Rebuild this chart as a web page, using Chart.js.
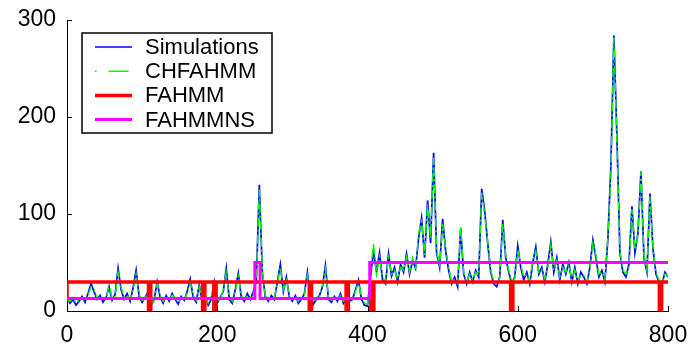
<!DOCTYPE html>
<html>
<head>
<meta charset="utf-8">
<script src="https://cdn.jsdelivr.net/npm/chart.js@4/dist/chart.umd.min.js"></script>
<style>
  body { margin: 0; background: #fff; }
  #wrap { width: 695px; height: 351px; position: relative; }
</style>
</head>
<body>
<div id="wrap"><canvas id="chart"></canvas></div>
<script>
// sample step of the two simulated series (x = index * STEP)
var STEP = 4;

var simulations = [
    14, 8, 12, 6, 10, 15, 9, 18, 28, 20, 12, 16, 9, 14, 25, 11, 17, 44, 22, 12, 18, 10, 24, 42, 15,
    9, 14, 20, 6, 12, 30, 14, 8, 16, 10, 18, 12, 7, 15, 11, 20, 33, 14, 9, 27, 10, 16, 6, 12, 30,
    8, 14, 20, 44, 12, 8, 22, 39, 14, 10, 18, 12, 20, 30, 130, 40, 14, 10, 16, 12, 30, 48, 20, 35, 14,
    10, 16, 8, 12, 18, 40, 14, 7, 12, 16, 25, 47, 12, 9, 15, 10, 18, 8, 14, 10, 12, 22, 32, 12, 6,
    5, 35, 62, 40, 60, 32, 28, 59, 36, 45, 30, 48, 40, 59, 38, 52, 44, 75, 96, 55, 114, 70, 163, 60, 45,
    95, 62, 42, 28, 35, 25, 85, 38, 28, 40, 30, 42, 35, 126, 103, 70, 40, 28, 25, 35, 94, 55, 40, 28, 35,
    67, 45, 32, 40, 28, 50, 66, 38, 45, 30, 48, 71, 40, 55, 32, 48, 38, 50, 30, 45, 28, 40, 35, 28, 45,
    73, 55, 35, 42, 30, 75, 150, 284, 180, 60, 40, 35, 48, 108, 60, 80, 144, 55, 40, 121, 64, 38, 30, 28, 40, 35
];

var chfahmm = [
    12, 10, 14, 8, 12, 13, 11, 16, 25, 22, 14, 14, 11, 12, 28, 13, 15, 40, 25, 14, 16, 12, 22, 38, 17,
    11, 12, 22, 8, 10, 28, 16, 10, 14, 12, 16, 14, 9, 13, 13, 18, 30, 16, 11, 25, 12, 14, 8, 14, 27,
    10, 12, 22, 40, 14, 10, 20, 36, 16, 12, 16, 14, 18, 28, 125, 42, 16, 12, 14, 14, 28, 45, 22, 32, 16,
    12, 14, 10, 14, 16, 37, 16, 9, 14, 14, 27, 44, 14, 11, 13, 12, 16, 10, 12, 12, 14, 20, 30, 14, 8,
    7, 40, 70, 38, 56, 35, 30, 55, 38, 42, 33, 45, 42, 56, 40, 55, 42, 80, 92, 58, 110, 75, 158, 62, 48,
    90, 65, 45, 30, 33, 28, 88, 40, 30, 38, 32, 40, 37, 122, 100, 72, 42, 30, 28, 33, 90, 58, 42, 30, 33,
    63, 48, 35, 38, 30, 53, 62, 40, 43, 33, 45, 68, 42, 52, 35, 45, 40, 48, 32, 42, 30, 38, 37, 30, 42,
    70, 58, 38, 40, 32, 78, 140, 282, 175, 62, 42, 38, 45, 105, 63, 78, 144, 58, 42, 118, 66, 40, 32, 30, 38, 36
];

// step series: FAHMM
var fahmmX = [0, 0, 108.5, 108.5, 111.5, 111.5, 180.5, 180.5, 183.5, 183.5, 195.5, 195.5, 198.5, 198.5,
    322.5, 322.5, 325.5, 325.5, 371.5, 371.5, 374.5, 374.5, 404.5, 404.5, 408.5, 408.5,
    590.5, 590.5, 593.5, 593.5, 788.5, 788.5, 791.5, 791.5, 800];
var fahmmY = [12, 30, 30, 0, 0, 30, 30, 0, 0, 30, 30, 0, 0, 30,
    30, 0, 0, 30, 30, 0, 0, 30, 30, 0, 0, 30,
    30, 0, 0, 30, 30, 0, 0, 30, 30];

// step series: FAHMMNS
var fahmmnsX = [0, 250, 250, 257, 257, 403, 403, 800];
var fahmmnsY = [13, 13, 50, 50, 13, 13, 50, 50];

var xTicks = [0, 200, 400, 600, 800];
var yTicks = [0, 100, 200, 300];

var FONT = "'Liberation Sans', Arial, sans-serif";

function toPoints(xs, ys) {
    return xs.map(function(x, i) { return { x: x, y: ys[i] }; });
}
function stepPoints(vals) {
    return vals.map(function(v, i) { return { x: i * STEP, y: v }; });
}

// inward tick marks on both axes
var innerTicks = {
    id: 'innerTicks',
    afterDraw: function(chart) {
        var ctx = chart.ctx, a = chart.chartArea;
        var xs = chart.scales.x, ys = chart.scales.y;
        ctx.save();
        ctx.strokeStyle = '#000';
        ctx.lineWidth = 1;
        ctx.beginPath();
        xTicks.forEach(function(t) {
            var p = Math.round(xs.getPixelForValue(t)) + 0.5;
            ctx.moveTo(p, a.bottom);
            ctx.lineTo(p, a.bottom - 5);
        });
        yTicks.forEach(function(t) {
            var p = Math.round(ys.getPixelForValue(t)) + 0.5;
            ctx.moveTo(a.left, p);
            ctx.lineTo(a.left + 5, p);
        });
        ctx.stroke();
        ctx.restore();
    }
};

// boxed legend inside the plot, top left
var boxLegend = {
    id: 'boxLegend',
    afterDraw: function(chart) {
        var ctx = chart.ctx;
        var bx = 82, by = 33, bw = 190, bh = 100;
        ctx.save();
        ctx.fillStyle = '#fff';
        ctx.fillRect(bx, by, bw, bh);
        ctx.strokeStyle = '#000';
        ctx.lineWidth = 1.5;
        ctx.strokeRect(bx, by, bw, bh);
        ctx.font = '22px ' + FONT;
        ctx.textBaseline = 'middle';
        ctx.textAlign = 'left';
        chart.data.datasets.forEach(function(ds, i) {
            var y = 47 + i * 24.2;
            ctx.beginPath();
            ctx.strokeStyle = ds.borderColor;
            ctx.lineWidth = ds.borderWidth;
            if (ds.legendDash) {
                ctx.setLineDash(ds.legendDash);
            } else {
                ctx.setLineDash([]);
            }
            ctx.moveTo(95, y);
            ctx.lineTo(132, y);
            ctx.stroke();
            ctx.setLineDash([]);
            ctx.fillStyle = '#000';
            ctx.fillText(ds.label, 145, y + 1);
        });
        ctx.restore();
    }
};

var ctx = document.getElementById('chart').getContext('2d');
var chart = new Chart(ctx, {
    type: 'line',
    data: {
        datasets: [{
            label: 'Simulations',
            data: stepPoints(simulations),
            borderColor: '#0000ff',
            borderWidth: 1.7,
            order: 4
        }, {
            label: 'CHFAHMM',
            data: stepPoints(chfahmm),
            borderColor: '#00ff00',
            borderWidth: 1.4,
            borderDash: [9, 3, 2, 3],
            legendDash: [1.5, 12, 20, 100],
            order: 3
        }, {
            label: 'FAHMM',
            data: toPoints(fahmmX, fahmmY),
            borderColor: '#ff0000',
            borderWidth: 3.5,
            order: 2
        }, {
            label: 'FAHMMNS',
            data: toPoints(fahmmnsX, fahmmnsY),
            borderColor: '#ff00ff',
            borderWidth: 3,
            order: 1
        }]
    },
    options: {
        responsive: true,
        maintainAspectRatio: false,
        animation: false,
        devicePixelRatio: 1,
        layout: {
            padding: { left: 0, top: 20, right: 27, bottom: 0 }
        },
        elements: {
            point: { radius: 0 },
            line: { tension: 0, fill: false, borderJoinStyle: 'miter' }
        },
        plugins: {
            legend: { display: false },
            tooltip: { enabled: false }
        },
        scales: {
            x: {
                type: 'linear',
                min: 0,
                max: 800,
                afterFit: function(scale) {
                    scale.height = 40;
                    scale.paddingLeft = 0;
                    scale.paddingRight = 0;
                },
                afterBuildTicks: function(scale) {
                    scale.ticks = xTicks.map(function(v) { return { value: v }; });
                },
                grid: { display: false, drawTicks: false },
                border: { display: true, color: '#000', width: 1 },
                ticks: {
                    padding: 11,
                    maxRotation: 0,
                    color: '#000',
                    font: { family: FONT, size: 23 }
                }
            },
            y: {
                min: 0,
                max: 300,
                afterFit: function(scale) {
                    scale.width = 67;
                    scale.paddingTop = 0;
                    scale.paddingBottom = 0;
                },
                afterBuildTicks: function(scale) {
                    scale.ticks = yTicks.map(function(v) { return { value: v }; });
                },
                grid: { display: false, drawTicks: false },
                border: { display: true, color: '#000', width: 1 },
                ticks: {
                    padding: 11,
                    color: '#000',
                    font: { family: FONT, size: 23 }
                }
            }
        }
    },
    plugins: [innerTicks, boxLegend]
});
</script>
</body>
</html>
